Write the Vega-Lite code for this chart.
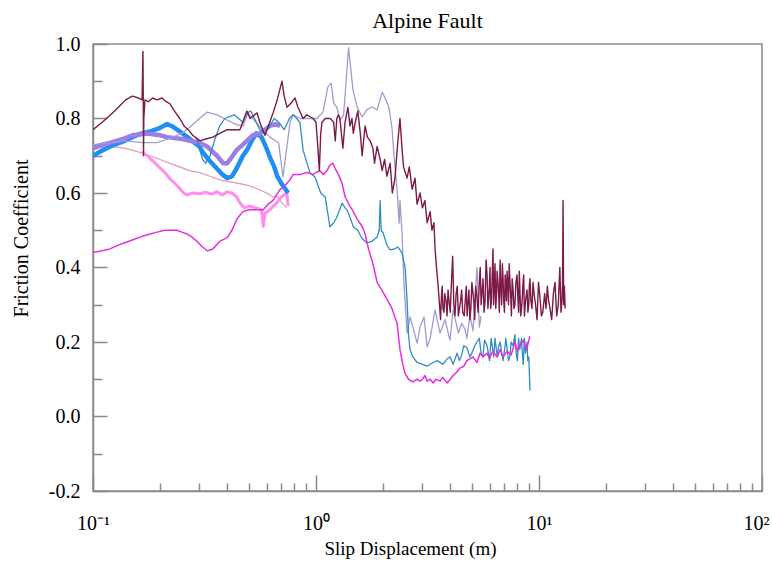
{
"$schema": "https://vega.github.io/schema/vega-lite/v6.json",
"width": 669, "height": 447,
"autosize": {"type": "none"},
"padding": {"left": 93, "top": 44, "right": 10, "bottom": 72},
"background": "white",
"config": {"view": {"stroke": "#8a8a8a", "strokeWidth": 1.5}},
"title": {"text": "Alpine Fault", "font": "Liberation Serif", "fontSize": 22, "fontWeight": "normal", "color": "#000", "offset": 1},
"datasets": {
"d": [
{"s":"rose","x":0.1,"y":0.72},{"s":"rose","x":0.12,"y":0.725},{"s":"rose","x":0.14,"y":0.72},{"s":"rose","x":0.16,"y":0.71},{"s":"rose","x":0.18,"y":0.70},{"s":"rose","x":0.2,"y":0.69},{"s":"rose","x":0.22,"y":0.68},{"s":"rose","x":0.245,"y":0.67},{"s":"rose","x":0.27,"y":0.66},{"s":"rose","x":0.3,"y":0.655},{"s":"rose","x":0.335,"y":0.645},{"s":"rose","x":0.37,"y":0.635},{"s":"rose","x":0.41,"y":0.63},{"s":"rose","x":0.456,"y":0.625},{"s":"rose","x":0.5,"y":0.62},{"s":"rose","x":0.55,"y":0.61},{"s":"rose","x":0.6,"y":0.6},{"s":"rose","x":0.64,"y":0.59},{"s":"rose","x":0.67,"y":0.59},{"s":"rose","x":0.7,"y":0.575},{"s":"rose","x":0.74,"y":0.56},

{"s":"orchid","x":0.165,"y":0.71},{"s":"orchid","x":0.175,"y":0.70},{"s":"orchid","x":0.19,"y":0.68},{"s":"orchid","x":0.21,"y":0.655},{"s":"orchid","x":0.22,"y":0.64},{"s":"orchid","x":0.238,"y":0.62},{"s":"orchid","x":0.255,"y":0.60},{"s":"orchid","x":0.264,"y":0.595},{"s":"orchid","x":0.28,"y":0.60},{"s":"orchid","x":0.30,"y":0.598},{"s":"orchid","x":0.32,"y":0.602},{"s":"orchid","x":0.34,"y":0.597},{"s":"orchid","x":0.36,"y":0.603},{"s":"orchid","x":0.38,"y":0.595},{"s":"orchid","x":0.40,"y":0.603},{"s":"orchid","x":0.42,"y":0.60},{"s":"orchid","x":0.44,"y":0.59},{"s":"orchid","x":0.46,"y":0.57},{"s":"orchid","x":0.48,"y":0.56},{"s":"orchid","x":0.50,"y":0.565},{"s":"orchid","x":0.54,"y":0.56},{"s":"orchid","x":0.57,"y":0.555},{"s":"orchid","x":0.58,"y":0.51},{"s":"orchid","x":0.59,"y":0.545},{"s":"orchid","x":0.62,"y":0.555},{"s":"orchid","x":0.67,"y":0.575},{"s":"orchid","x":0.70,"y":0.59},{"s":"orchid","x":0.74,"y":0.60},{"s":"orchid","x":0.75,"y":0.565},

{"s":"blue","x":0.1,"y":0.70},{"s":"blue","x":0.107,"y":0.71},{"s":"blue","x":0.115,"y":0.72},{"s":"blue","x":0.125,"y":0.73},{"s":"blue","x":0.136,"y":0.738},{"s":"blue","x":0.15,"y":0.75},{"s":"blue","x":0.165,"y":0.76},{"s":"blue","x":0.18,"y":0.765},{"s":"blue","x":0.2,"y":0.775},{"s":"blue","x":0.215,"y":0.785},{"s":"blue","x":0.225,"y":0.78},{"s":"blue","x":0.2455,"y":0.765},{"s":"blue","x":0.265,"y":0.75},{"s":"blue","x":0.285,"y":0.735},{"s":"blue","x":0.30,"y":0.725},{"s":"blue","x":0.31,"y":0.71},{"s":"blue","x":0.335,"y":0.685},{"s":"blue","x":0.36,"y":0.665},{"s":"blue","x":0.38,"y":0.65},{"s":"blue","x":0.40,"y":0.64},{"s":"blue","x":0.42,"y":0.645},{"s":"blue","x":0.44,"y":0.665},{"s":"blue","x":0.47,"y":0.70},{"s":"blue","x":0.49,"y":0.715},{"s":"blue","x":0.52,"y":0.745},{"s":"blue","x":0.54,"y":0.76},{"s":"blue","x":0.57,"y":0.75},{"s":"blue","x":0.60,"y":0.72},{"s":"blue","x":0.622,"y":0.695},{"s":"blue","x":0.65,"y":0.67},{"s":"blue","x":0.67,"y":0.645},{"s":"blue","x":0.70,"y":0.625},{"s":"blue","x":0.73,"y":0.61},{"s":"blue","x":0.75,"y":0.60},

{"s":"purple","x":0.1,"y":0.72},{"s":"purple","x":0.11,"y":0.73},{"s":"purple","x":0.12,"y":0.735},{"s":"purple","x":0.136,"y":0.745},{"s":"purple","x":0.15,"y":0.755},{"s":"purple","x":0.175,"y":0.76},{"s":"purple","x":0.2,"y":0.755},{"s":"purple","x":0.215,"y":0.75},{"s":"purple","x":0.25,"y":0.745},{"s":"purple","x":0.272,"y":0.74},{"s":"purple","x":0.3,"y":0.735},{"s":"purple","x":0.325,"y":0.725},{"s":"purple","x":0.345,"y":0.71},{"s":"purple","x":0.36,"y":0.70},{"s":"purple","x":0.383,"y":0.68},{"s":"purple","x":0.40,"y":0.68},{"s":"purple","x":0.412,"y":0.69},{"s":"purple","x":0.44,"y":0.715},{"s":"purple","x":0.47,"y":0.73},{"s":"purple","x":0.49,"y":0.74},{"s":"purple","x":0.52,"y":0.755},{"s":"purple","x":0.56,"y":0.76},{"s":"purple","x":0.59,"y":0.77},{"s":"purple","x":0.62,"y":0.78},{"s":"purple","x":0.66,"y":0.785},{"s":"purple","x":0.69,"y":0.78},

{"s":"lavender","x":0.1,"y":0.73},{"s":"lavender","x":0.12,"y":0.735},{"s":"lavender","x":0.14,"y":0.74},{"s":"lavender","x":0.1676,"y":0.735},{"s":"lavender","x":0.1936,"y":0.735},{"s":"lavender","x":0.2214,"y":0.747},{"s":"lavender","x":0.25,"y":0.76},{"s":"lavender","x":0.2723,"y":0.777},{"s":"lavender","x":0.3,"y":0.80},{"s":"lavender","x":0.3245,"y":0.817},{"s":"lavender","x":0.36,"y":0.81},{"s":"lavender","x":0.399,"y":0.796},{"s":"lavender","x":0.4424,"y":0.783},{"s":"lavender","x":0.47,"y":0.78},{"s":"lavender","x":0.495,"y":0.815},{"s":"lavender","x":0.52,"y":0.80},{"s":"lavender","x":0.561,"y":0.777},{"s":"lavender","x":0.622,"y":0.75},{"s":"lavender","x":0.68,"y":0.734},{"s":"lavender","x":0.711,"y":0.643},{"s":"lavender","x":0.74,"y":0.723},{"s":"lavender","x":0.765,"y":0.79},{"s":"lavender","x":0.79,"y":0.81},{"s":"lavender","x":0.85,"y":0.80},{"s":"lavender","x":0.91,"y":0.80},{"s":"lavender","x":0.97,"y":0.80},{"s":"lavender","x":1.01,"y":0.80},{"s":"lavender","x":1.075,"y":0.817},{"s":"lavender","x":1.13,"y":0.885},{"s":"lavender","x":1.17,"y":0.895},{"s":"lavender","x":1.2,"y":0.842},{"s":"lavender","x":1.24,"y":0.83},{"s":"lavender","x":1.28,"y":0.796},{"s":"lavender","x":1.33,"y":0.81},{"s":"lavender","x":1.40,"y":0.99},{"s":"lavender","x":1.465,"y":0.877},{"s":"lavender","x":1.53,"y":0.83},{"s":"lavender","x":1.61,"y":0.804},{"s":"lavender","x":1.69,"y":0.823},{"s":"lavender","x":1.78,"y":0.831},{"s":"lavender","x":1.88,"y":0.823},{"s":"lavender","x":1.98,"y":0.871},{"s":"lavender","x":2.04,"y":0.855},{"s":"lavender","x":2.12,"y":0.831},{"s":"lavender","x":2.19,"y":0.777},{"s":"lavender","x":2.24,"y":0.697},{"s":"lavender","x":2.31,"y":0.608},{"s":"lavender","x":2.36,"y":0.519},{"s":"lavender","x":2.38,"y":0.581},{"s":"lavender","x":2.43,"y":0.493},{"s":"lavender","x":2.48,"y":0.358},{"s":"lavender","x":2.56,"y":0.224},{"s":"lavender","x":2.64,"y":0.267},{"s":"lavender","x":2.72,"y":0.24},{"s":"lavender","x":2.84,"y":0.197},{"s":"lavender","x":2.93,"y":0.24},{"s":"lavender","x":3.05,"y":0.267},{"s":"lavender","x":3.15,"y":0.187},{"s":"lavender","x":3.25,"y":0.21},{"s":"lavender","x":3.42,"y":0.286},{"s":"lavender","x":3.6,"y":0.224},{"s":"lavender","x":3.79,"y":0.26},{"s":"lavender","x":3.99,"y":0.205},{"s":"lavender","x":4.12,"y":0.286},{"s":"lavender","x":4.35,"y":0.224},{"s":"lavender","x":4.5,"y":0.25},{"s":"lavender","x":4.65,"y":0.235},{"s":"lavender","x":4.75,"y":0.21},{"s":"lavender","x":4.9,"y":0.27},{"s":"lavender","x":5.06,"y":0.23},{"s":"lavender","x":5.27,"y":0.40},{"s":"lavender","x":5.4,"y":0.24},{"s":"lavender","x":5.5,"y":0.27},

{"s":"teal","x":0.29,"y":0.75},{"s":"teal","x":0.30,"y":0.72},{"s":"teal","x":0.31,"y":0.69},{"s":"teal","x":0.32,"y":0.68},{"s":"teal","x":0.335,"y":0.70},{"s":"teal","x":0.35,"y":0.74},{"s":"teal","x":0.37,"y":0.78},{"s":"teal","x":0.39,"y":0.80},{"s":"teal","x":0.41,"y":0.805},{"s":"teal","x":0.43,"y":0.81},{"s":"teal","x":0.45,"y":0.80},{"s":"teal","x":0.47,"y":0.79},{"s":"teal","x":0.49,"y":0.815},{"s":"teal","x":0.51,"y":0.82},{"s":"teal","x":0.53,"y":0.80},{"s":"teal","x":0.56,"y":0.77},{"s":"teal","x":0.59,"y":0.76},{"s":"teal","x":0.62,"y":0.78},{"s":"teal","x":0.65,"y":0.80},{"s":"teal","x":0.68,"y":0.79},{"s":"teal","x":0.72,"y":0.77},{"s":"teal","x":0.76,"y":0.80},{"s":"teal","x":0.79,"y":0.81},{"s":"teal","x":0.82,"y":0.80},{"s":"teal","x":0.848,"y":0.788},{"s":"teal","x":0.875,"y":0.715},{"s":"teal","x":0.94,"y":0.654},{"s":"teal","x":0.99,"y":0.643},{"s":"teal","x":1.05,"y":0.60},{"s":"teal","x":1.1,"y":0.589},{"s":"teal","x":1.155,"y":0.509},{"s":"teal","x":1.2,"y":0.52},{"s":"teal","x":1.24,"y":0.535},{"s":"teal","x":1.31,"y":0.573},{"s":"teal","x":1.35,"y":0.56},{"s":"teal","x":1.38,"y":0.554},{"s":"teal","x":1.43,"y":0.53},{"s":"teal","x":1.47,"y":0.509},{"s":"teal","x":1.54,"y":0.50},{"s":"teal","x":1.6,"y":0.48},{"s":"teal","x":1.69,"y":0.466},{"s":"teal","x":1.78,"y":0.47},{"s":"teal","x":1.88,"y":0.482},{"s":"teal","x":1.92,"y":0.50},{"s":"teal","x":1.94,"y":0.58},{"s":"teal","x":1.96,"y":0.50},{"s":"teal","x":2.0,"y":0.493},{"s":"teal","x":2.08,"y":0.46},{"s":"teal","x":2.15,"y":0.447},{"s":"teal","x":2.25,"y":0.45},{"s":"teal","x":2.33,"y":0.455},{"s":"teal","x":2.43,"y":0.439},{"s":"teal","x":2.51,"y":0.40},{"s":"teal","x":2.56,"y":0.313},{"s":"teal","x":2.6,"y":0.22},{"s":"teal","x":2.64,"y":0.179},{"s":"teal","x":2.72,"y":0.16},{"s":"teal","x":2.84,"y":0.145},{"s":"teal","x":3.0,"y":0.14},{"s":"teal","x":3.15,"y":0.135},{"s":"teal","x":3.35,"y":0.145},{"s":"teal","x":3.5,"y":0.15},{"s":"teal","x":3.71,"y":0.14},{"s":"teal","x":3.87,"y":0.155},{"s":"teal","x":4.0,"y":0.16},{"s":"teal","x":4.12,"y":0.14},{"s":"teal","x":4.29,"y":0.17},{"s":"teal","x":4.4,"y":0.15},{"s":"teal","x":4.5,"y":0.165},{"s":"teal","x":4.6,"y":0.19},{"s":"teal","x":4.75,"y":0.185},{"s":"teal","x":4.9,"y":0.16},{"s":"teal","x":5.0,"y":0.17},{"s":"teal","x":5.15,"y":0.19},{"s":"teal","x":5.27,"y":0.20},{"s":"teal","x":5.4,"y":0.21},{"s":"teal","x":5.5,"y":0.17},{"s":"teal","x":5.6,"y":0.16},{"s":"teal","x":5.7,"y":0.205},{"s":"teal","x":5.85,"y":0.19},{"s":"teal","x":6.0,"y":0.15},{"s":"teal","x":6.1,"y":0.21},{"s":"teal","x":6.2,"y":0.18},{"s":"teal","x":6.27,"y":0.16},{"s":"teal","x":6.35,"y":0.21},{"s":"teal","x":6.5,"y":0.16},{"s":"teal","x":6.6,"y":0.19},{"s":"teal","x":6.7,"y":0.20},{"s":"teal","x":6.8,"y":0.17},{"s":"teal","x":6.9,"y":0.15},{"s":"teal","x":7.05,"y":0.19},{"s":"teal","x":7.1,"y":0.21},{"s":"teal","x":7.2,"y":0.18},{"s":"teal","x":7.3,"y":0.15},{"s":"teal","x":7.4,"y":0.16},{"s":"teal","x":7.5,"y":0.20},{"s":"teal","x":7.65,"y":0.19},{"s":"teal","x":7.8,"y":0.22},{"s":"teal","x":7.9,"y":0.17},{"s":"teal","x":8.0,"y":0.15},{"s":"teal","x":8.1,"y":0.21},{"s":"teal","x":8.2,"y":0.18},{"s":"teal","x":8.35,"y":0.21},{"s":"teal","x":8.42,"y":0.17},{"s":"teal","x":8.5,"y":0.14},{"s":"teal","x":8.6,"y":0.21},{"s":"teal","x":8.7,"y":0.17},{"s":"teal","x":8.84,"y":0.20},{"s":"teal","x":8.9,"y":0.15},{"s":"teal","x":9.0,"y":0.16},{"s":"teal","x":9.05,"y":0.12},{"s":"teal","x":9.11,"y":0.07},

{"s":"magenta","x":0.1,"y":0.44},{"s":"magenta","x":0.11,"y":0.445},{"s":"magenta","x":0.119,"y":0.45},{"s":"magenta","x":0.13,"y":0.46},{"s":"magenta","x":0.14,"y":0.467},{"s":"magenta","x":0.152,"y":0.475},{"s":"magenta","x":0.165,"y":0.483},{"s":"magenta","x":0.18,"y":0.49},{"s":"magenta","x":0.194,"y":0.495},{"s":"magenta","x":0.21,"y":0.50},{"s":"magenta","x":0.238,"y":0.50},{"s":"magenta","x":0.25,"y":0.495},{"s":"magenta","x":0.264,"y":0.49},{"s":"magenta","x":0.28,"y":0.48},{"s":"magenta","x":0.293,"y":0.47},{"s":"magenta","x":0.31,"y":0.455},{"s":"magenta","x":0.325,"y":0.445},{"s":"magenta","x":0.335,"y":0.447},{"s":"magenta","x":0.345,"y":0.45},{"s":"magenta","x":0.37,"y":0.47},{"s":"magenta","x":0.40,"y":0.48},{"s":"magenta","x":0.42,"y":0.50},{"s":"magenta","x":0.442,"y":0.53},{"s":"magenta","x":0.47,"y":0.55},{"s":"magenta","x":0.50,"y":0.555},{"s":"magenta","x":0.544,"y":0.555},{"s":"magenta","x":0.58,"y":0.555},{"s":"magenta","x":0.61,"y":0.57},{"s":"magenta","x":0.642,"y":0.58},{"s":"magenta","x":0.69,"y":0.61},{"s":"magenta","x":0.71,"y":0.615},{"s":"magenta","x":0.765,"y":0.635},{"s":"magenta","x":0.79,"y":0.65},{"s":"magenta","x":0.85,"y":0.65},{"s":"magenta","x":0.91,"y":0.655},{"s":"magenta","x":0.97,"y":0.65},{"s":"magenta","x":1.0,"y":0.655},{"s":"magenta","x":1.04,"y":0.66},{"s":"magenta","x":1.08,"y":0.65},{"s":"magenta","x":1.12,"y":0.66},{"s":"magenta","x":1.155,"y":0.675},{"s":"magenta","x":1.19,"y":0.68},{"s":"magenta","x":1.22,"y":0.665},{"s":"magenta","x":1.26,"y":0.65},{"s":"magenta","x":1.31,"y":0.625},{"s":"magenta","x":1.35,"y":0.59},{"s":"magenta","x":1.42,"y":0.565},{"s":"magenta","x":1.47,"y":0.55},{"s":"magenta","x":1.53,"y":0.53},{"s":"magenta","x":1.61,"y":0.51},{"s":"magenta","x":1.66,"y":0.49},{"s":"magenta","x":1.72,"y":0.45},{"s":"magenta","x":1.80,"y":0.41},{"s":"magenta","x":1.88,"y":0.36},{"s":"magenta","x":1.97,"y":0.34},{"s":"magenta","x":2.06,"y":0.32},{"s":"magenta","x":2.19,"y":0.29},{"s":"magenta","x":2.31,"y":0.25},{"s":"magenta","x":2.38,"y":0.18},{"s":"magenta","x":2.45,"y":0.14},{"s":"magenta","x":2.51,"y":0.115},{"s":"magenta","x":2.6,"y":0.10},{"s":"magenta","x":2.72,"y":0.093},{"s":"magenta","x":2.84,"y":0.10},{"s":"magenta","x":2.93,"y":0.095},{"s":"magenta","x":3.0,"y":0.10},{"s":"magenta","x":3.08,"y":0.11},{"s":"magenta","x":3.15,"y":0.095},{"s":"magenta","x":3.25,"y":0.10},{"s":"magenta","x":3.35,"y":0.09},{"s":"magenta","x":3.45,"y":0.10},{"s":"magenta","x":3.6,"y":0.095},{"s":"magenta","x":3.7,"y":0.105},{"s":"magenta","x":3.87,"y":0.09},{"s":"magenta","x":4.0,"y":0.10},{"s":"magenta","x":4.12,"y":0.11},{"s":"magenta","x":4.29,"y":0.12},{"s":"magenta","x":4.42,"y":0.13},{"s":"magenta","x":4.6,"y":0.135},{"s":"magenta","x":4.75,"y":0.15},{"s":"magenta","x":4.9,"y":0.155},{"s":"magenta","x":5.06,"y":0.16},{"s":"magenta","x":5.27,"y":0.145},{"s":"magenta","x":5.44,"y":0.17},{"s":"magenta","x":5.6,"y":0.16},{"s":"magenta","x":5.85,"y":0.17},{"s":"magenta","x":6.0,"y":0.155},{"s":"magenta","x":6.2,"y":0.175},{"s":"magenta","x":6.5,"y":0.16},{"s":"magenta","x":6.7,"y":0.18},{"s":"magenta","x":6.9,"y":0.16},{"s":"magenta","x":7.2,"y":0.175},{"s":"magenta","x":7.5,"y":0.165},{"s":"magenta","x":7.8,"y":0.20},{"s":"magenta","x":8.0,"y":0.175},{"s":"magenta","x":8.2,"y":0.19},{"s":"magenta","x":8.5,"y":0.205},{"s":"magenta","x":8.8,"y":0.18},{"s":"magenta","x":9.1,"y":0.215},

{"s":"maroon","x":0.1,"y":0.77},{"s":"maroon","x":0.11,"y":0.79},{"s":"maroon","x":0.12,"y":0.81},{"s":"maroon","x":0.13,"y":0.83},{"s":"maroon","x":0.14,"y":0.85},{"s":"maroon","x":0.15,"y":0.86},{"s":"maroon","x":0.16,"y":0.855},{"s":"maroon","x":0.166,"y":0.85},{"s":"maroon","x":0.1675,"y":0.98},{"s":"maroon","x":0.168,"y":0.86},{"s":"maroon","x":0.1685,"y":0.70},{"s":"maroon","x":0.169,"y":0.80},{"s":"maroon","x":0.171,"y":0.85},{"s":"maroon","x":0.177,"y":0.845},{"s":"maroon","x":0.185,"y":0.855},{"s":"maroon","x":0.194,"y":0.85},{"s":"maroon","x":0.204,"y":0.855},{"s":"maroon","x":0.213,"y":0.845},{"s":"maroon","x":0.221,"y":0.84},{"s":"maroon","x":0.232,"y":0.82},{"s":"maroon","x":0.245,"y":0.80},{"s":"maroon","x":0.256,"y":0.78},{"s":"maroon","x":0.267,"y":0.77},{"s":"maroon","x":0.28,"y":0.755},{"s":"maroon","x":0.302,"y":0.74},{"s":"maroon","x":0.32,"y":0.745},{"s":"maroon","x":0.345,"y":0.75},{"s":"maroon","x":0.37,"y":0.76},{"s":"maroon","x":0.40,"y":0.77},{"s":"maroon","x":0.456,"y":0.77},{"s":"maroon","x":0.49,"y":0.82},{"s":"maroon","x":0.506,"y":0.80},{"s":"maroon","x":0.544,"y":0.815},{"s":"maroon","x":0.56,"y":0.79},{"s":"maroon","x":0.59,"y":0.755},{"s":"maroon","x":0.62,"y":0.79},{"s":"maroon","x":0.642,"y":0.815},{"s":"maroon","x":0.67,"y":0.85},{"s":"maroon","x":0.69,"y":0.88},{"s":"maroon","x":0.704,"y":0.90},{"s":"maroon","x":0.72,"y":0.86},{"s":"maroon","x":0.741,"y":0.83},{"s":"maroon","x":0.77,"y":0.84},{"s":"maroon","x":0.805,"y":0.855},{"s":"maroon","x":0.83,"y":0.83},{"s":"maroon","x":0.875,"y":0.80},{"s":"maroon","x":0.91,"y":0.81},{"s":"maroon","x":0.97,"y":0.80},{"s":"maroon","x":1.0,"y":0.79},{"s":"maroon","x":1.02,"y":0.72},{"s":"maroon","x":1.035,"y":0.66},{"s":"maroon","x":1.05,"y":0.76},{"s":"maroon","x":1.064,"y":0.79},{"s":"maroon","x":1.10,"y":0.80},{"s":"maroon","x":1.16,"y":0.80},{"s":"maroon","x":1.2,"y":0.79},{"s":"maroon","x":1.22,"y":0.74},{"s":"maroon","x":1.24,"y":0.80},{"s":"maroon","x":1.26,"y":0.81},{"s":"maroon","x":1.28,"y":0.80},{"s":"maroon","x":1.30,"y":0.76},{"s":"maroon","x":1.32,"y":0.72},{"s":"maroon","x":1.35,"y":0.79},{"s":"maroon","x":1.39,"y":0.83},{"s":"maroon","x":1.42,"y":0.78},{"s":"maroon","x":1.45,"y":0.80},{"s":"maroon","x":1.47,"y":0.76},{"s":"maroon","x":1.50,"y":0.79},{"s":"maroon","x":1.54,"y":0.82},{"s":"maroon","x":1.58,"y":0.76},{"s":"maroon","x":1.61,"y":0.70},{"s":"maroon","x":1.66,"y":0.78},{"s":"maroon","x":1.70,"y":0.75},{"s":"maroon","x":1.75,"y":0.74},{"s":"maroon","x":1.80,"y":0.72},{"s":"maroon","x":1.83,"y":0.68},{"s":"maroon","x":1.88,"y":0.725},{"s":"maroon","x":1.94,"y":0.69},{"s":"maroon","x":1.98,"y":0.66},{"s":"maroon","x":2.03,"y":0.69},{"s":"maroon","x":2.08,"y":0.645},{"s":"maroon","x":2.15,"y":0.68},{"s":"maroon","x":2.20,"y":0.60},{"s":"maroon","x":2.26,"y":0.64},{"s":"maroon","x":2.33,"y":0.74},{"s":"maroon","x":2.38,"y":0.80},{"s":"maroon","x":2.43,"y":0.72},{"s":"maroon","x":2.47,"y":0.67},{"s":"maroon","x":2.56,"y":0.64},{"s":"maroon","x":2.62,"y":0.67},{"s":"maroon","x":2.70,"y":0.61},{"s":"maroon","x":2.78,"y":0.64},{"s":"maroon","x":2.84,"y":0.57},{"s":"maroon","x":2.93,"y":0.60},{"s":"maroon","x":3.0,"y":0.56},{"s":"maroon","x":3.08,"y":0.58},{"s":"maroon","x":3.15,"y":0.52},{"s":"maroon","x":3.25,"y":0.55},{"s":"maroon","x":3.31,"y":0.50},{"s":"maroon","x":3.38,"y":0.52},{"s":"maroon","x":3.42,"y":0.45},{"s":"maroon","x":3.47,"y":0.40},{"s":"maroon","x":3.53,"y":0.35},{"s":"maroon","x":3.58,"y":0.30},{"s":"maroon","x":3.62,"y":0.26},{"s":"maroon","x":3.65,"y":0.32},{"s":"maroon","x":3.68,"y":0.35},{"s":"maroon","x":3.71,"y":0.29},{"s":"maroon","x":3.75,"y":0.28},{"s":"maroon","x":3.78,"y":0.33},{"s":"maroon","x":3.83,"y":0.31},{"s":"maroon","x":3.87,"y":0.27},{"s":"maroon","x":3.91,"y":0.34},{"s":"maroon","x":3.95,"y":0.31},{"s":"maroon","x":4.0,"y":0.28},{"s":"maroon","x":4.05,"y":0.36},{"s":"maroon","x":4.1,"y":0.43},{"s":"maroon","x":4.15,"y":0.30},{"s":"maroon","x":4.2,"y":0.27},{"s":"maroon","x":4.25,"y":0.33},{"s":"maroon","x":4.3,"y":0.35},{"s":"maroon","x":4.35,"y":0.27},{"s":"maroon","x":4.4,"y":0.29},{"s":"maroon","x":4.45,"y":0.31},{"s":"maroon","x":4.5,"y":0.34},{"s":"maroon","x":4.55,"y":0.28},{"s":"maroon","x":4.62,"y":0.27},{"s":"maroon","x":4.68,"y":0.32},{"s":"maroon","x":4.72,"y":0.35},{"s":"maroon","x":4.76,"y":0.27},{"s":"maroon","x":4.8,"y":0.30},{"s":"maroon","x":4.85,"y":0.34},{"s":"maroon","x":4.9,"y":0.26},{"s":"maroon","x":4.95,"y":0.29},{"s":"maroon","x":5.0,"y":0.36},{"s":"maroon","x":5.06,"y":0.33},{"s":"maroon","x":5.1,"y":0.31},{"s":"maroon","x":5.15,"y":0.26},{"s":"maroon","x":5.2,"y":0.35},{"s":"maroon","x":5.27,"y":0.32},{"s":"maroon","x":5.33,"y":0.28},{"s":"maroon","x":5.4,"y":0.36},{"s":"maroon","x":5.45,"y":0.40},{"s":"maroon","x":5.5,"y":0.30},{"s":"maroon","x":5.55,"y":0.33},{"s":"maroon","x":5.61,"y":0.37},{"s":"maroon","x":5.67,"y":0.28},{"s":"maroon","x":5.73,"y":0.31},{"s":"maroon","x":5.79,"y":0.42},{"s":"maroon","x":5.85,"y":0.38},{"s":"maroon","x":5.9,"y":0.29},{"s":"maroon","x":5.95,"y":0.32},{"s":"maroon","x":5.99,"y":0.35},{"s":"maroon","x":6.03,"y":0.40},{"s":"maroon","x":6.07,"y":0.29},{"s":"maroon","x":6.12,"y":0.31},{"s":"maroon","x":6.17,"y":0.38},{"s":"maroon","x":6.22,"y":0.45},{"s":"maroon","x":6.26,"y":0.30},{"s":"maroon","x":6.30,"y":0.34},{"s":"maroon","x":6.35,"y":0.41},{"s":"maroon","x":6.40,"y":0.29},{"s":"maroon","x":6.45,"y":0.33},{"s":"maroon","x":6.49,"y":0.39},{"s":"maroon","x":6.55,"y":0.36},{"s":"maroon","x":6.6,"y":0.32},{"s":"maroon","x":6.64,"y":0.28},{"s":"maroon","x":6.69,"y":0.42},{"s":"maroon","x":6.74,"y":0.35},{"s":"maroon","x":6.8,"y":0.30},{"s":"maroon","x":6.85,"y":0.41},{"s":"maroon","x":6.9,"y":0.37},{"s":"maroon","x":6.95,"y":0.31},{"s":"maroon","x":7.0,"y":0.28},{"s":"maroon","x":7.05,"y":0.38},{"s":"maroon","x":7.1,"y":0.35},{"s":"maroon","x":7.15,"y":0.31},{"s":"maroon","x":7.19,"y":0.39},{"s":"maroon","x":7.25,"y":0.36},{"s":"maroon","x":7.3,"y":0.30},{"s":"maroon","x":7.35,"y":0.41},{"s":"maroon","x":7.41,"y":0.36},{"s":"maroon","x":7.47,"y":0.32},{"s":"maroon","x":7.52,"y":0.27},{"s":"maroon","x":7.58,"y":0.37},{"s":"maroon","x":7.65,"y":0.34},{"s":"maroon","x":7.72,"y":0.29},{"s":"maroon","x":7.8,"y":0.30},{"s":"maroon","x":7.88,"y":0.36},{"s":"maroon","x":7.97,"y":0.38},{"s":"maroon","x":8.04,"y":0.32},{"s":"maroon","x":8.1,"y":0.28},{"s":"maroon","x":8.16,"y":0.39},{"s":"maroon","x":8.22,"y":0.33},{"s":"maroon","x":8.28,"y":0.27},{"s":"maroon","x":8.35,"y":0.29},{"s":"maroon","x":8.42,"y":0.32},{"s":"maroon","x":8.48,"y":0.36},{"s":"maroon","x":8.54,"y":0.38},{"s":"maroon","x":8.6,"y":0.27},{"s":"maroon","x":8.7,"y":0.31},{"s":"maroon","x":8.84,"y":0.34},{"s":"maroon","x":8.92,"y":0.28},{"s":"maroon","x":9.0,"y":0.30},{"s":"maroon","x":9.05,"y":0.35},{"s":"maroon","x":9.11,"y":0.37},{"s":"maroon","x":9.2,"y":0.31},{"s":"maroon","x":9.3,"y":0.29},{"s":"maroon","x":9.4,"y":0.36},{"s":"maroon","x":9.5,"y":0.33},{"s":"maroon","x":9.65,"y":0.30},{"s":"maroon","x":9.8,"y":0.26},{"s":"maroon","x":9.95,"y":0.36},{"s":"maroon","x":10.1,"y":0.32},{"s":"maroon","x":10.25,"y":0.27},{"s":"maroon","x":10.4,"y":0.28},{"s":"maroon","x":10.6,"y":0.33},{"s":"maroon","x":10.75,"y":0.29},{"s":"maroon","x":10.9,"y":0.35},{"s":"maroon","x":11.05,"y":0.31},{"s":"maroon","x":11.2,"y":0.29},{"s":"maroon","x":11.4,"y":0.26},{"s":"maroon","x":11.6,"y":0.33},{"s":"maroon","x":11.8,"y":0.36},{"s":"maroon","x":12.0,"y":0.27},{"s":"maroon","x":12.2,"y":0.30},{"s":"maroon","x":12.4,"y":0.40},{"s":"maroon","x":12.55,"y":0.28},{"s":"maroon","x":12.7,"y":0.32},{"s":"maroon","x":12.75,"y":0.36},{"s":"maroon","x":12.82,"y":0.58},{"s":"maroon","x":12.9,"y":0.30},{"s":"maroon","x":13.0,"y":0.35},{"s":"maroon","x":13.1,"y":0.29}
]
},
"data": {"name": "d"},
"mark": {"type": "line", "clip": true, "strokeJoin": "round"},
"encoding": {
"x": {"field": "x", "type": "quantitative", "scale": {"type": "log", "domain": [0.1, 100]},
 "axis": {"values": [0.1,0.2,0.3,0.4,0.5,0.6,0.7,0.8,0.9,1,2,3,4,5,6,7,8,9,10,20,30,40,50,60,70,80,90,100],
  "labelExpr": "datum.value == 0.1 ? '10⁻¹' : datum.value == 1 ? '10⁰' : datum.value == 10 ? '10¹' : datum.value == 100 ? '10²' : ''",
  "tickSize": {"condition": {"test": "datum.value == 0.1 || datum.value == 1 || datum.value == 10 || datum.value == 100", "value": -16}, "value": -8},
  "labelOffset": {"condition": {"test": "datum.value == 100", "value": -6}, "value": 0},
  "labelPadding": 38, "labelFlush": false, "labelOverlap": false, "grid": false,
  "domainColor": "#8a8a8a", "domainWidth": 1.5, "tickColor": "#8a8a8a", "tickWidth": 1.5,
  "labelFont": "Liberation Serif", "labelFontSize": 20, "labelColor": "#000",
  "title": "Slip Displacement (m)", "titleFont": "Liberation Serif", "titleFontSize": 19, "titleFontWeight": "normal", "titleColor": "#000",
  "titleX": 317, "titleY": 57, "titleAlign": "center", "titleBaseline": "middle"}},
"y": {"field": "y", "type": "quantitative", "scale": {"domain": [-0.2, 1.0], "nice": false, "zero": false},
 "axis": {"values": [-0.2,-0.1,0,0.1,0.2,0.3,0.4,0.5,0.6,0.7,0.8,0.9,1.0],
  "labelExpr": "abs(round(datum.value*10)) % 2 == 0 ? replace(format(datum.value, '.1f'), '−', '-') : ''",
  "tickSize": {"condition": {"test": "abs(round(datum.value*10)) % 2 == 0", "value": -14}, "value": -9},
  "labelPadding": 27, "labelOverlap": false, "grid": false,
  "domainColor": "#8a8a8a", "domainWidth": 1.5, "tickColor": "#8a8a8a", "tickWidth": 1.5,
  "labelFont": "Liberation Serif", "labelFontSize": 20, "labelColor": "#000",
  "title": "Friction Coefficient", "titleFont": "Liberation Serif", "titleFontSize": 20, "titleFontWeight": "normal", "titleColor": "#000",
  "titleX": -72, "titleY": 194, "titleAngle": -90, "titleAlign": "center", "titleBaseline": "middle"}},
"color": {"field": "s", "type": "nominal",
 "scale": {"domain": ["rose","orchid","blue","purple","lavender","teal","magenta","maroon"],
  "range": ["#e494b4","#ff8ef0","#1f8ef5","#9b7fe6","#a29bd2","#2f8dbf","#e62ee0","#7d1a47"]}, "legend": null},
"strokeWidth": {"field": "s", "type": "nominal",
 "scale": {"type": "ordinal", "domain": ["rose","orchid","blue","purple","lavender","teal","magenta","maroon"],
  "range": [1.2, 3, 4.5, 4.5, 1.3, 1.3, 1.5, 1.4]}, "legend": null}
}
}
